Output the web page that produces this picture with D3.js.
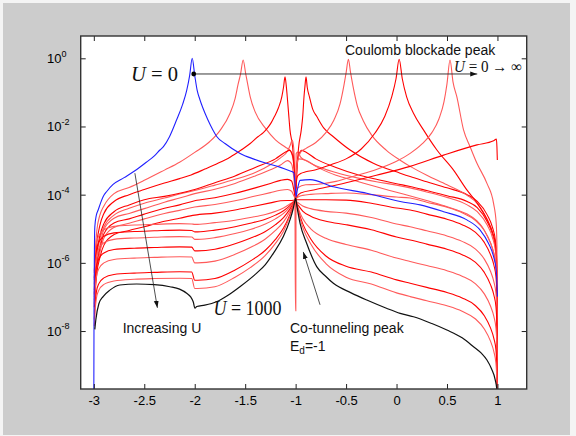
<!DOCTYPE html>
<html><head><meta charset="utf-8">
<script src="https://cdn.jsdelivr.net/npm/d3@7/dist/d3.min.js"></script>
<style>body{margin:0;background:#f4f4f4}</style>
</head><body>
<svg id="c" width="576" height="436"></svg>
<script>
// ---- data: each point is [energy, log10(transmission)] ----
const xTicks = [-3,-2.5,-2,-1.5,-1,-0.5,0,0.5,1];
const xTickLabels = ["-3","-2.5","-2","-1.5","-1","-0.5","0","0.5","1"];
const yTickExps = [0,-2,-4,-6,-8];

const curveBlue = [[-3.0,-10],[-2.998,-7.5],[-2.994,-5.6],[-2.99,-4.94],[-2.975,-4.6],[-2.957,-4.45],[-2.93,-4.22],[-2.908,-4.06],[-2.87,-3.9],[-2.809,-3.7],[-2.7,-3.5],[-2.593,-3.3],[-2.48,-3.05],[-2.4,-2.86],[-2.345,-2.69],[-2.31,-2.59],[-2.25,-2.3],[-2.18,-1.81],[-2.12,-1.35],[-2.08,-0.95],[-2.05,-0.5],[-2.025,0],[-2.0,-0.5],[-1.975,-0.95],[-1.95,-1.2],[-1.92,-1.45],[-1.87,-1.8],[-1.82,-2.1],[-1.78,-2.3],[-1.7,-2.5],[-1.55,-2.79],[-1.42,-2.95],[-1.29,-3.08],[-1.15,-3.2],[-1.06,-3.3],[-1.02,-3.35],[-1.006,-3.67],[-0.996,-4.06],[-0.983,-3.86],[-0.956,-3.58],[-0.857,-3.56],[-0.626,-3.77],[-0.295,-3.96],[0.036,-4.2],[0.234,-4.3],[0.466,-4.5],[0.697,-4.74],[0.829,-5.04],[0.912,-5.43],[0.962,-5.82],[0.988,-6.21],[1.0,-6.99]];

const curveBlack = [[-2.99,-7.95],[-2.98,-7.67],[-2.95,-7.2],[-2.908,-6.99],[-2.841,-6.8],[-2.742,-6.65],[-2.576,-6.62],[-2.4,-6.64],[-2.246,-6.7],[-2.15,-6.77],[-2.08,-6.89],[-2.04,-7.0],[-2.015,-7.14],[-1.998,-7.33],[-1.98,-7.28],[-1.9,-7.24],[-1.783,-7.14],[-1.67,-6.95],[-1.552,-6.7],[-1.386,-6.3],[-1.3,-6.05],[-1.221,-5.72],[-1.122,-5.23],[-1.056,-4.74],[-1.025,-4.42],[-1.006,-4.16],[-1.0,-4.1],[-0.99,-4.28],[-0.975,-4.55],[-0.956,-4.84],[-0.89,-5.43],[-0.791,-6.11],[-0.7,-6.4],[-0.626,-6.6],[-0.45,-6.88],[-0.295,-7.09],[-0.1,-7.33],[0.036,-7.48],[0.168,-7.58],[0.35,-7.78],[0.499,-7.97],[0.65,-8.2],[0.763,-8.46],[0.84,-8.65],[0.896,-8.85],[0.94,-9.1],[0.978,-9.43],[0.995,-9.75],[1.0,-10]];

const curveP1 = [[-2.995,-6.3],[-2.985,-5.6],[-2.97,-5.05],[-2.94,-4.6],[-2.9,-4.33],[-2.8,-3.97],[-2.65,-3.79],[-2.5,-3.58],[-2.3,-3.28],[-2.15,-3.05],[-2.0,-2.76],[-1.85,-2.44],[-1.75,-2.12],[-1.65,-1.61],[-1.6,-1.18],[-1.57,-0.76],[-1.545,-0.45],[-1.52,-0.05],[-1.495,-0.45],[-1.47,-0.84],[-1.45,-1.13],[-1.4,-1.58],[-1.3,-2.05],[-1.2,-2.39],[-1.1,-2.61],[-1.05,-2.72],[-1.02,-3.1],[-1.005,-3.8],[-1.0,-4.15],[-0.995,-3.4],[-0.98,-2.95],[-0.9,-2.99],[-0.8,-3.17],[-0.6,-3.43],[-0.4,-3.6],[-0.2,-3.77],[0,-3.93],[0.2,-4.09],[0.4,-4.26],[0.6,-4.45],[0.7,-4.57],[0.8,-4.78],[0.85,-4.95],[0.9,-5.22],[0.95,-5.58],[0.98,-5.99],[0.99,-6.3],[0.997,-7.5],[1.0,-10]];

const curveP2 = [[-2.995,-6.5],[-2.985,-5.9],[-2.97,-5.4],[-2.94,-4.9],[-2.9,-4.55],[-2.8,-4.2],[-2.65,-4.0],[-2.5,-3.85],[-2.3,-3.66],[-2.15,-3.53],[-2.036,-3.42],[-1.9,-3.25],[-1.77,-3.08],[-1.65,-2.9],[-1.54,-2.69],[-1.45,-2.5],[-1.374,-2.3],[-1.32,-2.18],[-1.28,-2.05],[-1.24,-1.88],[-1.21,-1.71],[-1.17,-1.45],[-1.137,-1.13],[-1.12,-0.85],[-1.105,-0.54],[-1.093,-0.8],[-1.083,-1.13],[-1.07,-1.6],[-1.056,-2.1],[-1.03,-2.6],[-1.012,-3.3],[-1.0,-4.15],[-0.99,-3.4],[-0.97,-2.85],[-0.94,-2.7],[-0.9,-2.75],[-0.8,-2.95],[-0.6,-3.2],[-0.4,-3.4],[-0.2,-3.55],[0,-3.68],[0.135,-3.76],[0.3,-3.88],[0.5,-4.03],[0.7,-4.2],[0.8,-4.38],[0.9,-4.8],[0.95,-5.15],[0.98,-5.55],[0.99,-5.85],[0.997,-7],[1.0,-10]];

const curvePs = [[-2.995,-6.9],[-2.985,-6.3],[-2.97,-5.8],[-2.94,-5.3],[-2.9,-4.95],[-2.8,-4.6],[-2.65,-4.4],[-2.5,-4.25],[-2.3,-4.1],[-2.15,-3.98],[-2.0,-3.88],[-1.8,-3.72],[-1.6,-3.55],[-1.4,-3.35],[-1.25,-3.12],[-1.15,-2.92],[-1.08,-2.72],[-1.05,-2.52],[-1.035,-2.4],[-1.02,-2.6],[-1.008,-3.5],[-1.002,-7.4],[-0.998,-7.4],[-0.995,-2.8],[-0.98,-2.75],[-0.95,-2.9],[-0.9,-3.0],[-0.8,-3.15],[-0.6,-3.35],[-0.4,-3.5],[-0.2,-3.62],[0,-3.72],[0.135,-3.8],[0.3,-3.92],[0.5,-4.08],[0.7,-4.3],[0.8,-4.5],[0.9,-4.9],[0.95,-5.25],[0.98,-5.65],[0.99,-6.0],[0.997,-7.2],[1.0,-10]];

const curveP3 = [[-2.995,-6.8],[-2.985,-6.2],[-2.97,-5.7],[-2.94,-5.2],[-2.9,-4.85],[-2.8,-4.5],[-2.65,-4.3],[-2.5,-4.15],[-2.3,-4.05],[-2.15,-3.96],[-2.0,-3.85],[-1.8,-3.65],[-1.6,-3.45],[-1.4,-3.2],[-1.2,-2.95],[-1.1,-2.75],[-1.06,-2.7],[-1.03,-2.85],[-1.01,-3.4],[-1.0,-4.15],[-0.99,-3.4],[-0.97,-2.6],[-0.944,-2.1],[-0.93,-1.71],[-0.917,-1.13],[-0.907,-0.8],[-0.897,-0.54],[-0.885,-0.85],[-0.863,-1.13],[-0.83,-1.5],[-0.79,-1.71],[-0.72,-2.05],[-0.626,-2.3],[-0.46,-2.69],[-0.23,-3.08],[0.036,-3.37],[0.135,-3.47],[0.3,-3.62],[0.5,-3.8],[0.7,-4.0],[0.8,-4.2],[0.9,-4.6],[0.95,-4.95],[0.98,-5.35],[0.99,-5.7],[0.997,-7],[1.0,-10]];

const curveP4 = [[-2.995,-7.0],[-2.985,-6.5],[-2.97,-6.0],[-2.94,-5.5],[-2.9,-5.02],[-2.8,-4.69],[-2.65,-4.55],[-2.5,-4.41],[-2.3,-4.22],[-2.15,-4.1],[-2.0,-3.97],[-1.8,-3.84],[-1.6,-3.67],[-1.4,-3.45],[-1.25,-3.27],[-1.15,-3.13],[-1.08,-3.0],[-1.04,-3.1],[-1.015,-3.6],[-1.0,-4.15],[-0.995,-3.5],[-0.98,-3.0],[-0.95,-2.75],[-0.9,-2.65],[-0.8,-2.47],[-0.7,-2.18],[-0.62,-1.81],[-0.56,-1.34],[-0.52,-0.77],[-0.5,-0.43],[-0.477,-0.03],[-0.455,-0.43],[-0.43,-0.84],[-0.39,-1.38],[-0.33,-1.83],[-0.25,-2.24],[-0.1,-2.7],[0.036,-2.99],[0.135,-3.17],[0.3,-3.43],[0.5,-3.71],[0.7,-4.02],[0.8,-4.26],[0.9,-4.73],[0.95,-5.1],[0.98,-5.51],[0.99,-5.82],[0.997,-7],[1.0,-10]];

const curveP5 = [[-2.995,-7.1],[-2.985,-6.6],[-2.97,-6.1],[-2.94,-5.6],[-2.9,-5.15],[-2.8,-4.83],[-2.65,-4.71],[-2.5,-4.57],[-2.3,-4.4],[-2.15,-4.3],[-2.0,-4.18],[-1.8,-4.09],[-1.6,-3.96],[-1.4,-3.8],[-1.25,-3.67],[-1.15,-3.58],[-1.08,-3.55],[-1.04,-3.6],[-1.015,-3.9],[-1.0,-4.15],[-0.995,-3.7],[-0.98,-3.45],[-0.95,-3.38],[-0.9,-3.33],[-0.8,-3.27],[-0.65,-3.12],[-0.5,-2.95],[-0.35,-2.66],[-0.215,-2.2],[-0.116,-1.7],[-0.048,-1.13],[-0.005,-0.6],[0.026,-0.03],[0.057,-0.6],[0.1,-1.13],[0.168,-1.61],[0.267,-2.1],[0.4,-2.69],[0.565,-3.28],[0.697,-3.86],[0.8,-4.25],[0.9,-4.75],[0.95,-5.1],[0.98,-5.45],[0.99,-5.75],[0.997,-7],[1.0,-10]];

const curveP6 = [[-2.995,-7.2],[-2.985,-6.7],[-2.97,-6.2],[-2.94,-5.7],[-2.9,-5.27],[-2.8,-4.96],[-2.65,-4.84],[-2.5,-4.71],[-2.3,-4.55],[-2.15,-4.46],[-2.0,-4.36],[-1.8,-4.29],[-1.6,-4.18],[-1.4,-4.04],[-1.25,-3.94],[-1.15,-3.87],[-1.08,-3.85],[-1.04,-3.9],[-1.015,-4.05],[-1.0,-4.15],[-0.995,-3.9],[-0.98,-3.8],[-0.9,-3.71],[-0.8,-3.7],[-0.6,-3.61],[-0.4,-3.44],[-0.2,-3.26],[0,-3.02],[0.135,-2.79],[0.25,-2.52],[0.35,-2.18],[0.42,-1.78],[0.47,-1.28],[0.5,-0.75],[0.53,-0.05],[0.56,-0.7],[0.598,-1.13],[0.664,-2.1],[0.73,-2.6],[0.797,-3.08],[0.896,-3.67],[0.961,-4.25],[0.988,-4.84],[0.995,-5.5],[1.0,-10]];

const curveP7 = [[-2.995,-7.3],[-2.985,-6.8],[-2.97,-6.3],[-2.94,-5.85],[-2.9,-5.48],[-2.8,-5.17],[-2.65,-5.05],[-2.5,-4.94],[-2.3,-4.78],[-2.15,-4.69],[-2.0,-4.6],[-1.8,-4.54],[-1.6,-4.45],[-1.4,-4.33],[-1.25,-4.24],[-1.15,-4.18],[-1.08,-4.17],[-1.04,-4.17],[-1.0,-4.15],[-0.99,-4.08],[-0.95,-3.95],[-0.8,-3.85],[-0.5,-3.65],[-0.2,-3.43],[0.135,-3.17],[0.466,-2.84],[0.797,-2.54],[0.962,-2.42],[0.99,-2.37],[0.995,-2.6],[0.999,-2.98]];

const curveN1 = [[-2.995,-6.25],[-2.988,-5.85],[-2.975,-5.45],[-2.95,-5.2],[-2.9,-5.03],[-2.8,-4.93],[-2.6,-4.89],[-2.4,-4.87],[-2.15,-4.85],[-2.03,-4.86],[-2.0,-4.87],[-1.97,-4.87],[-1.8,-4.82],[-1.6,-4.75],[-1.45,-4.67],[-1.3,-4.58],[-1.2,-4.49],[-1.12,-4.39],[-1.06,-4.28],[-1.03,-4.22],[-1.01,-4.17],[-1.0,-4.15],[-0.99,-4.1],[-0.97,-4.06],[-0.93,-4.02],[-0.85,-3.99],[-0.7,-3.97],[-0.5,-3.95],[-0.25,-4.0],[0,-4.07],[0.135,-4.1],[0.3,-4.22],[0.5,-4.37],[0.65,-4.53],[0.78,-4.75],[0.87,-5.05],[0.93,-5.4],[0.965,-5.72],[0.985,-6.05],[0.995,-6.6],[1.0,-10]];

const curveN2 = [[-2.995,-6.44],[-2.988,-6.04],[-2.975,-5.64],[-2.95,-5.39],[-2.9,-5.22],[-2.8,-5.12],[-2.6,-5.08],[-2.4,-5.06],[-2.15,-5.04],[-2.03,-5.05],[-2.0,-5.09],[-1.97,-5.09],[-1.8,-5.04],[-1.6,-4.94],[-1.45,-4.84],[-1.3,-4.72],[-1.2,-4.6],[-1.12,-4.47],[-1.06,-4.33],[-1.03,-4.24],[-1.01,-4.18],[-1.0,-4.15],[-0.99,-4.15],[-0.93,-4.15],[-0.7,-4.15],[-0.5,-4.16],[-0.25,-4.25],[0,-4.39],[0.135,-4.45],[0.3,-4.57],[0.5,-4.72],[0.65,-4.88],[0.78,-5.1],[0.87,-5.4],[0.93,-5.75],[0.965,-6.07],[0.985,-6.4],[0.995,-6.95],[1.0,-10]];

const curveN3 = [[-2.995,-6.63],[-2.988,-6.23],[-2.975,-5.83],[-2.95,-5.58],[-2.9,-5.41],[-2.8,-5.31],[-2.6,-5.27],[-2.4,-5.25],[-2.15,-5.23],[-2.03,-5.24],[-2.0,-5.31],[-1.97,-5.31],[-1.8,-5.26],[-1.6,-5.14],[-1.45,-5.02],[-1.3,-4.86],[-1.2,-4.71],[-1.12,-4.55],[-1.06,-4.37],[-1.03,-4.26],[-1.01,-4.18],[-1.0,-4.15],[-0.99,-4.2],[-0.97,-4.25],[-0.93,-4.33],[-0.85,-4.41],[-0.7,-4.49],[-0.5,-4.54],[-0.25,-4.67],[0,-4.86],[0.135,-4.94],[0.3,-5.06],[0.5,-5.21],[0.65,-5.37],[0.78,-5.59],[0.87,-5.89],[0.93,-6.24],[0.965,-6.56],[0.985,-6.89],[0.995,-7.44],[1.0,-10]];

const curveN4 = [[-2.995,-6.93],[-2.988,-6.53],[-2.975,-6.13],[-2.95,-5.88],[-2.9,-5.71],[-2.8,-5.61],[-2.6,-5.57],[-2.4,-5.55],[-2.15,-5.53],[-2.03,-5.54],[-2.0,-5.65],[-1.97,-5.65],[-1.8,-5.6],[-1.6,-5.44],[-1.45,-5.28],[-1.3,-5.08],[-1.2,-4.88],[-1.12,-4.67],[-1.06,-4.44],[-1.03,-4.3],[-1.01,-4.19],[-1.0,-4.15],[-0.99,-4.24],[-0.97,-4.33],[-0.93,-4.48],[-0.85,-4.63],[-0.7,-4.78],[-0.5,-4.88],[-0.25,-5.03],[0,-5.24],[0.135,-5.33],[0.3,-5.45],[0.5,-5.6],[0.65,-5.76],[0.78,-5.98],[0.87,-6.28],[0.93,-6.63],[0.965,-6.95],[0.985,-7.28],[0.995,-7.83],[1.0,-10]];

const curveN5 = [[-2.995,-7.22],[-2.988,-6.82],[-2.975,-6.42],[-2.95,-6.17],[-2.9,-6.0],[-2.8,-5.9],[-2.6,-5.86],[-2.4,-5.84],[-2.15,-5.82],[-2.03,-5.83],[-2.0,-6.0],[-1.97,-6.0],[-1.8,-5.95],[-1.6,-5.75],[-1.45,-5.55],[-1.3,-5.3],[-1.2,-5.05],[-1.12,-4.8],[-1.06,-4.51],[-1.03,-4.33],[-1.01,-4.2],[-1.0,-4.15],[-0.99,-4.26],[-0.97,-4.43],[-0.93,-4.7],[-0.85,-5.0],[-0.7,-5.28],[-0.5,-5.46],[-0.25,-5.63],[0,-5.86],[0.135,-5.96],[0.3,-6.08],[0.5,-6.23],[0.65,-6.39],[0.78,-6.61],[0.87,-6.91],[0.93,-7.26],[0.965,-7.58],[0.985,-7.91],[0.995,-8.46],[1.0,-10]];

const curveN6 = [[-2.995,-7.66],[-2.988,-7.26],[-2.975,-6.86],[-2.95,-6.61],[-2.9,-6.44],[-2.8,-6.34],[-2.6,-6.3],[-2.4,-6.28],[-2.15,-6.26],[-2.03,-6.27],[-2.0,-6.51],[-1.97,-6.51],[-1.8,-6.46],[-1.6,-6.21],[-1.45,-5.95],[-1.3,-5.63],[-1.2,-5.31],[-1.12,-4.98],[-1.06,-4.61],[-1.03,-4.38],[-1.01,-4.22],[-1.0,-4.15],[-0.99,-4.28],[-0.97,-4.5],[-0.93,-4.85],[-0.85,-5.3],[-0.7,-5.8],[-0.5,-6.1],[-0.25,-6.27],[0,-6.5],[0.135,-6.6],[0.3,-6.72],[0.5,-6.87],[0.65,-7.03],[0.78,-7.25],[0.87,-7.55],[0.93,-7.9],[0.965,-8.22],[0.985,-8.55],[0.995,-9.1],[1.0,-10]];

const curveN7 = [[-2.995,-7.85],[-2.988,-7.45],[-2.975,-7.05],[-2.95,-6.8],[-2.9,-6.63],[-2.8,-6.53],[-2.6,-6.48],[-2.4,-6.46],[-2.15,-6.45],[-2.03,-6.46],[-2.0,-6.75],[-1.97,-6.75],[-1.8,-6.7],[-1.6,-6.42],[-1.45,-6.14],[-1.3,-5.78],[-1.2,-5.43],[-1.12,-5.07],[-1.06,-4.66],[-1.03,-4.41],[-1.01,-4.22],[-1.0,-4.15],[-0.99,-4.3],[-0.97,-4.55],[-0.93,-4.95],[-0.85,-5.45],[-0.7,-6.02],[-0.5,-6.42],[-0.25,-6.62],[0,-6.88],[0.135,-6.99],[0.3,-7.11],[0.5,-7.26],[0.65,-7.42],[0.78,-7.64],[0.87,-7.94],[0.93,-8.29],[0.965,-8.61],[0.985,-8.94],[0.995,-9.49],[1.0,-10]];

const redCurves = [curveP1,curveP2,curvePs,curveP3,curveP4,curveP5,curveP6,curveP7,curveN1,curveN2,curveN3,curveN4,curveN5,curveN6,curveN7];

// annotation anchors in data coordinates [energy, log10]
const arrowU0 = [[-2.01,-0.46],[0.8,-0.46]];
const arrowIncreasing = [[-2.593,-3.37],[-2.37,-7.32]];
const arrowCotunnel = [[-0.758,-7.23],[-0.924,-5.68]];

// ---- drawing ----
const W = 576, H = 436;
const PL = 80.7, PR = 526.7, PT = 36, PB = 389;
const svg = d3.select("#c");
svg.append("rect").attr("width",W).attr("height",H).attr("fill","#f4f4f4");
svg.append("rect").attr("x",3).attr("y",3).attr("width",567).attr("height",432).attr("fill","#cccccc");
svg.append("rect").attr("x",PL).attr("y",PT).attr("width",PR-PL).attr("height",PB-PT).attr("fill","#fff");

const x = d3.scaleLinear().domain([-3.13,1.29]).range([PL,PR]);
const y = d3.scaleLog().domain([Math.pow(10,-9.7), Math.pow(10,0.654)]).range([PB,PT]);
const Y = e => y(Math.pow(10,e));

svg.append("defs").append("clipPath").attr("id","clip")
  .append("rect").attr("x",PL).attr("y",PT).attr("width",PR-PL).attr("height",PB-PT);

const line = d3.line().x(d=>x(d[0])).y(d=>Y(d[1])).curve(d3.curveMonotoneX);
const g = svg.append("g").attr("clip-path","url(#clip)");
redCurves.forEach((c,i)=>{
  g.append("path").attr("d",line(c)).attr("fill","none")
   .attr("stroke", i%2===0 ? "#ff5a5a" : "#ff0000").attr("stroke-width",1.1);
});
g.append("path").attr("d",line(curveBlue)).attr("fill","none").attr("stroke","#2020ff").attr("stroke-width",1.1);
g.append("path").attr("d",line(curveBlack)).attr("fill","none").attr("stroke","#111").attr("stroke-width",1.2);

// axes (ticks inside)
const yTickVals = yTickExps.map(e=>Math.pow(10,e));
function styleAxis(sel){ sel.select(".domain").remove(); sel.selectAll("line").attr("stroke","#222"); }
svg.append("g").attr("transform",`translate(0,${PB})`)
  .call(d3.axisBottom(x).tickValues(xTicks).tickSizeInner(-5).tickSizeOuter(0).tickPadding(7)
        .tickFormat((d,i)=>xTickLabels[i]))
  .call(styleAxis)
  .call(s=>s.selectAll("text").attr("font-family","Liberation Sans, Arial, sans-serif").attr("font-size",13).attr("fill","#000"));
svg.append("g").attr("transform",`translate(0,${PT})`)
  .call(d3.axisTop(x).tickValues(xTicks).tickSizeInner(-5).tickSizeOuter(0).tickFormat(""))
  .call(styleAxis);
svg.append("g").attr("transform",`translate(${PL},0)`)
  .call(d3.axisLeft(y).tickValues(yTickVals).tickSizeInner(-5).tickSizeOuter(0).tickFormat(""))
  .call(styleAxis);
svg.append("g").attr("transform",`translate(${PR},0)`)
  .call(d3.axisRight(y).tickValues(yTickVals).tickSizeInner(-5).tickSizeOuter(0).tickFormat(""))
  .call(styleAxis);

// y tick labels 10^e
yTickExps.forEach(e=>{
  const t = svg.append("text").attr("x",47).attr("y",Y(e)+5)
    .attr("font-family","Liberation Sans, Arial, sans-serif").attr("font-size",13).attr("fill","#000");
  t.append("tspan").text("10");
  t.append("tspan").attr("dy",-6.6).attr("font-size",9).text(String(e));
});

// frame
svg.append("rect").attr("x",PL).attr("y",PT).attr("width",PR-PL).attr("height",PB-PT)
  .attr("fill","none").attr("stroke","#333").attr("stroke-width",1.4);

// arrow markers
const defs = svg.select("defs");
defs.append("marker").attr("id","ah").attr("viewBox","0 0 10 10").attr("refX",10).attr("refY",5)
  .attr("markerWidth",7).attr("markerHeight",7).attr("markerUnits","userSpaceOnUse").attr("orient","auto")
  .append("path").attr("d","M0,1.5 L10,5 L0,8.5 Z").attr("fill","#111");

function arrow(a, w){
  svg.append("line").attr("x1",x(a[0][0])).attr("y1",Y(a[0][1])).attr("x2",x(a[1][0])).attr("y2",Y(a[1][1]))
    .attr("stroke","#222").attr("stroke-width",w).attr("marker-end","url(#ah)");
}
arrow(arrowU0, 0.9);
svg.append("circle").attr("cx",x(arrowU0[0][0])).attr("cy",Y(arrowU0[0][1])).attr("r",2.4).attr("fill","#000");
arrow(arrowIncreasing, 0.8);
arrow(arrowCotunnel, 0.8);

// annotations
const serif = "Liberation Serif, Times New Roman, serif";
const sans = "Liberation Sans, Arial, sans-serif";
function mathText(px, py, size, len, rest){
  const t = svg.append("text").attr("x",px).attr("y",py).attr("font-family",serif).attr("font-size",size)
    .attr("fill","#111").attr("textLength",len).attr("lengthAdjust","spacingAndGlyphs");
  t.append("tspan").attr("font-style","italic").text("U");
  t.append("tspan").text(rest);
}
mathText(131, 80.5, 20, 47, " = 0");
mathText(454, 71.5, 16, 68, " = 0 \u2192 \u221E");
mathText(213.5, 315, 20, 68, " = 1000");

svg.append("text").attr("x",345).attr("y",55).attr("font-family",sans).attr("font-size",14).attr("fill","#111")
  .text("Coulomb blockade peak");
svg.append("text").attr("x",122.7).attr("y",333).attr("font-family",sans).attr("font-size",14).attr("fill","#111")
  .text("Increasing U");
svg.append("text").attr("x",290).attr("y",333).attr("font-family",sans).attr("font-size",14).attr("fill","#111")
  .text("Co-tunneling peak");
const ed = svg.append("text").attr("x",290).attr("y",350.5).attr("font-family",sans).attr("font-size",14).attr("fill","#111");
ed.append("tspan").text("E");
ed.append("tspan").attr("dy",3.5).attr("font-size",10).text("d");
ed.append("tspan").attr("dy",-3.5).text("=-1");
</script>
</body></html>
